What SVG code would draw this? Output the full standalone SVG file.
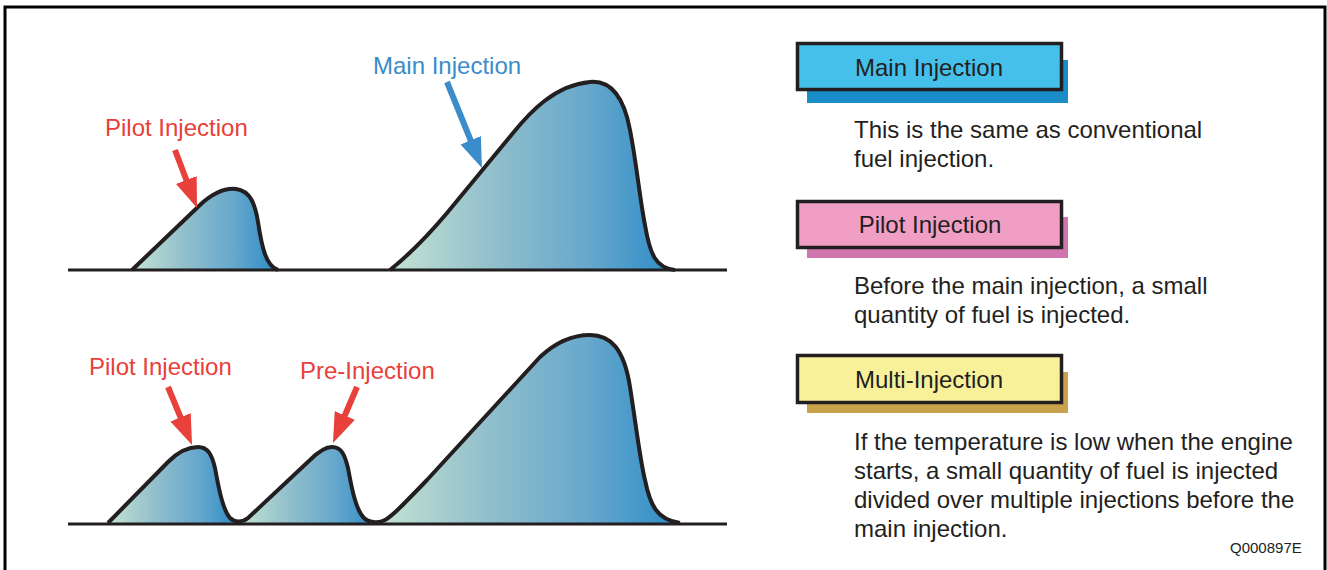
<svg xmlns="http://www.w3.org/2000/svg" width="1327" height="570" viewBox="0 0 1327 570">
<style>
.lbl{font-family:"Liberation Sans",Arial,sans-serif;font-size:24px}
.red{fill:#e8403a}
.blue{fill:#3a8ccb}
.dark{fill:#231f20}
.box{stroke:#231f20;stroke-width:3.5}
.peak{stroke:#231f20;stroke-width:4;stroke-linejoin:round;fill:url(#g)}
.outline{stroke:#231f20;stroke-width:4;stroke-linejoin:round;fill:none}
.base{stroke:#231f20;stroke-width:3}
</style>
<defs>
<linearGradient id="g" x1="0" y1="0" x2="1" y2="0">
<stop offset="0" stop-color="#c4e3d3"/>
<stop offset="0.35" stop-color="#93c0cc"/>
<stop offset="0.7" stop-color="#66a7cc"/>
<stop offset="0.9" stop-color="#3f95c9"/>
<stop offset="1" stop-color="#2f8cc8"/>
</linearGradient>
<linearGradient id="g1" href="#g" gradientUnits="userSpaceOnUse" x1="108" y1="0" x2="238" y2="0"/>
<linearGradient id="g2" href="#g" gradientUnits="userSpaceOnUse" x1="240" y1="0" x2="376" y2="0"/>
<linearGradient id="g3" href="#g" gradientUnits="userSpaceOnUse" x1="378" y1="0" x2="680" y2="0"/>
<clipPath id="c1"><rect x="100" y="430" width="138" height="100"/></clipPath>
<clipPath id="c2"><rect x="238" y="430" width="138" height="100"/></clipPath>
<clipPath id="c3"><rect x="376" y="320" width="320" height="210"/></clipPath>
<marker id="ar" viewBox="0 0 30 22" refX="15" refY="11" markerWidth="30" markerHeight="22" markerUnits="userSpaceOnUse" orient="auto"><path d="M0,0 L30,11 L0,22 Z" fill="#e8403a"/></marker>
<marker id="ab" viewBox="0 0 30 22" refX="15" refY="11" markerWidth="30" markerHeight="22" markerUnits="userSpaceOnUse" orient="auto"><path d="M0,0 L30,11 L0,22 Z" fill="#3a8ccb"/></marker>
</defs>
<rect x="5" y="7" width="1320" height="580" fill="#fff" stroke="#000" stroke-width="3"/>

<g id="top-chart">
<path class="peak" d="M132,270 L200,205 C214,192 226,188 236,189 C250,191 255,203 258,222 C262,248 266,266 278,270"/>
<path class="peak" d="M390,270 C400,262 420,245 447,213 L513,133 C530,112 555,85 590,82 C612,80 624,98 630,130 C636,160 640,200 645,225 C650,255 656,268 675,270"/>
<line class="base" x1="68" y1="270" x2="727" y2="270"/>
</g>

<g id="bottom-chart">
<path id="bo" d="M108,523 L168,462 C180,450 190,447 198,447 C208,447 212,455 215,468 C219,490 223,510 230,518 C234,522 242,523 248,518 L310,460 C320,450 327,447 332,447 C342,447 345,456 348,468 C352,490 356,510 364,518 C368,522 378,524 385,520 C392,516 400,508 427,480 L540,357 C556,342 572,335 590,335 C610,335 624,348 630,387 C636,425 640,460 645,480 C650,505 657,520 680,523 Z" fill="url(#g1)" clip-path="url(#c1)"/>
<path d="M108,523 L168,462 C180,450 190,447 198,447 C208,447 212,455 215,468 C219,490 223,510 230,518 C234,522 242,523 248,518 L310,460 C320,450 327,447 332,447 C342,447 345,456 348,468 C352,490 356,510 364,518 C368,522 378,524 385,520 C392,516 400,508 427,480 L540,357 C556,342 572,335 590,335 C610,335 624,348 630,387 C636,425 640,460 645,480 C650,505 657,520 680,523 Z" fill="url(#g2)" clip-path="url(#c2)"/>
<path d="M108,523 L168,462 C180,450 190,447 198,447 C208,447 212,455 215,468 C219,490 223,510 230,518 C234,522 242,523 248,518 L310,460 C320,450 327,447 332,447 C342,447 345,456 348,468 C352,490 356,510 364,518 C368,522 378,524 385,520 C392,516 400,508 427,480 L540,357 C556,342 572,335 590,335 C610,335 624,348 630,387 C636,425 640,460 645,480 C650,505 657,520 680,523 Z" fill="url(#g3)" clip-path="url(#c3)"/>
<path class="outline" d="M108,523 L168,462 C180,450 190,447 198,447 C208,447 212,455 215,468 C219,490 223,510 230,518 C234,522 242,523 248,518 L310,460 C320,450 327,447 332,447 C342,447 345,456 348,468 C352,490 356,510 364,518 C368,522 378,524 385,520 C392,516 400,508 427,480 L540,357 C556,342 572,335 590,335 C610,335 624,348 630,387 C636,425 640,460 645,480 C650,505 657,520 680,523"/>
<line class="base" x1="68" y1="524" x2="727" y2="524"/>
</g>

<g id="connectors">
<line x1="175" y1="150" x2="191.7" y2="194" stroke="#e8403a" stroke-width="6" marker-end="url(#ar)"/>
<line x1="447" y1="82" x2="476.3" y2="154.1" stroke="#3a8ccb" stroke-width="6" marker-end="url(#ab)"/>
<line x1="168" y1="387" x2="186.3" y2="431.1" stroke="#e8403a" stroke-width="6" marker-end="url(#ar)"/>
<line x1="357" y1="387" x2="338.9" y2="429.2" stroke="#e8403a" stroke-width="6" marker-end="url(#ar)"/>
</g>

<g id="label-main"><text class="lbl blue" x="373" y="74">Main Injection</text></g>
<g id="label-pilot-top"><text class="lbl red" x="105" y="136">Pilot Injection</text></g>
<g id="label-pilot-bottom"><text class="lbl red" x="89" y="375">Pilot Injection</text></g>
<g id="label-pre"><text class="lbl red" x="300" y="379">Pre-Injection</text></g>

<g id="box-main">
<rect x="807" y="60" width="261" height="43" fill="#1a8cc8"/>
<rect class="box" x="797.5" y="43.5" width="264" height="46" fill="#45c0ea"/>
<text class="lbl dark" x="929" y="76" text-anchor="middle">Main Injection</text>
</g>
<g id="desc-main">
<text class="lbl dark" x="854" y="138">This is the same as conventional</text>
<text class="lbl dark" x="854" y="167">fuel injection.</text>
</g>

<g id="box-pilot">
<rect x="807" y="217" width="261" height="41" fill="#d075ae"/>
<rect class="box" x="797.5" y="201.5" width="264" height="46" fill="#f09ec4"/>
<text class="lbl dark" x="930" y="233" text-anchor="middle">Pilot Injection</text>
</g>
<g id="desc-pilot">
<text class="lbl dark" x="854" y="294">Before the main injection, a small</text>
<text class="lbl dark" x="854" y="323">quantity of fuel is injected.</text>
</g>

<g id="box-multi">
<rect x="807" y="372" width="261" height="41" fill="#c9a24c"/>
<rect class="box" x="797.5" y="355.5" width="264" height="47" fill="#f9f19a"/>
<text class="lbl dark" x="929" y="388" text-anchor="middle">Multi-Injection</text>
</g>
<g id="desc-multi">
<text class="lbl dark" x="854" y="450">If the temperature is low when the engine</text>
<text class="lbl dark" x="854" y="479">starts, a small quantity of fuel is injected</text>
<text class="lbl dark" x="854" y="508">divided over multiple injections before the</text>
<text class="lbl dark" x="854" y="537">main injection.</text>
</g>

<text x="1230" y="553" font-family="Liberation Sans, Arial, sans-serif" font-size="15" fill="#231f20">Q000897E</text>
</svg>
